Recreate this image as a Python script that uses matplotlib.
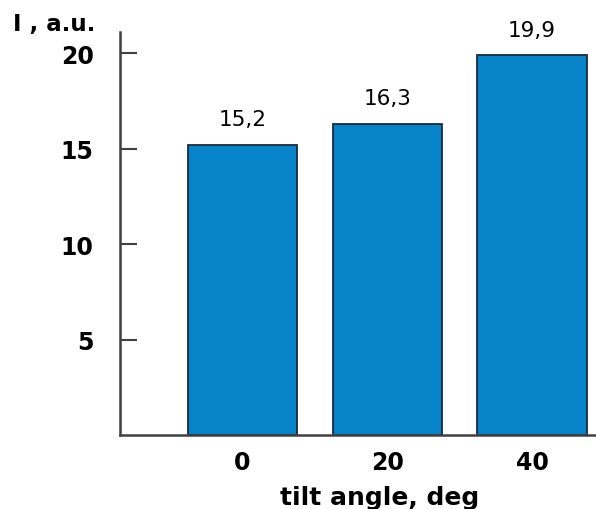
"""
Bar chart: intensity vs tilt angle
"""

import matplotlib
matplotlib.use('Agg')
import matplotlib.pyplot as plt
import numpy as np

angles = ['0', '20', '40']
intensity = [15.2, 16.3, 19.9]
value_labels = ['15,2', '16,3', '19,9']
y_ticks = [5, 10, 15, 20]

plt.rcParams['font.family'] = ['DejaVu Sans']

fig = plt.figure(figsize=(5.96, 5.10), dpi=100)
ax = fig.add_axes([120 / 596, 74 / 510, 476 / 596, 403 / 510])

x = np.arange(len(angles))
bars = ax.bar(x, intensity, width=0.755, color='#0683c9',
              edgecolor='#1a2a3a', linewidth=1.3)

for bar, lab in zip(bars, value_labels):
    ax.annotate(lab, (bar.get_x() + bar.get_width() / 2, bar.get_height()),
                xytext=(0, 11), textcoords='offset points',
                ha='center', va='bottom', fontsize=15.5)

ax.set_xlim(-0.846, 2.442)
ax.set_ylim(0, 21.1)
ax.set_xticks(x)
ax.set_xticklabels(angles, fontsize=17, fontweight='bold')
ax.set_yticks(y_ticks)
ax.set_yticklabels([str(t) for t in y_ticks], fontsize=17, fontweight='bold')
ax.tick_params(axis='x', length=0, pad=11)
ax.tick_params(axis='y', direction='in', length=12, width=1.5,
               color='#404040', pad=19)

for side in ['top', 'right']:
    ax.spines[side].set_visible(False)
for side in ['left', 'bottom']:
    ax.spines[side].set_color('#404040')
    ax.spines[side].set_linewidth(1.8)

fig.text(13 / 596, 1 - 25 / 510, 'I , a.u.', ha='left', va='center',
         fontsize=16.5, fontweight='bold')
fig.text(380 / 596, 1 - 498 / 510, 'tilt angle, deg', ha='center',
         va='center', fontsize=18, fontweight='bold')

plt.savefig('out.png', dpi=100, facecolor='white')
plt.close()
